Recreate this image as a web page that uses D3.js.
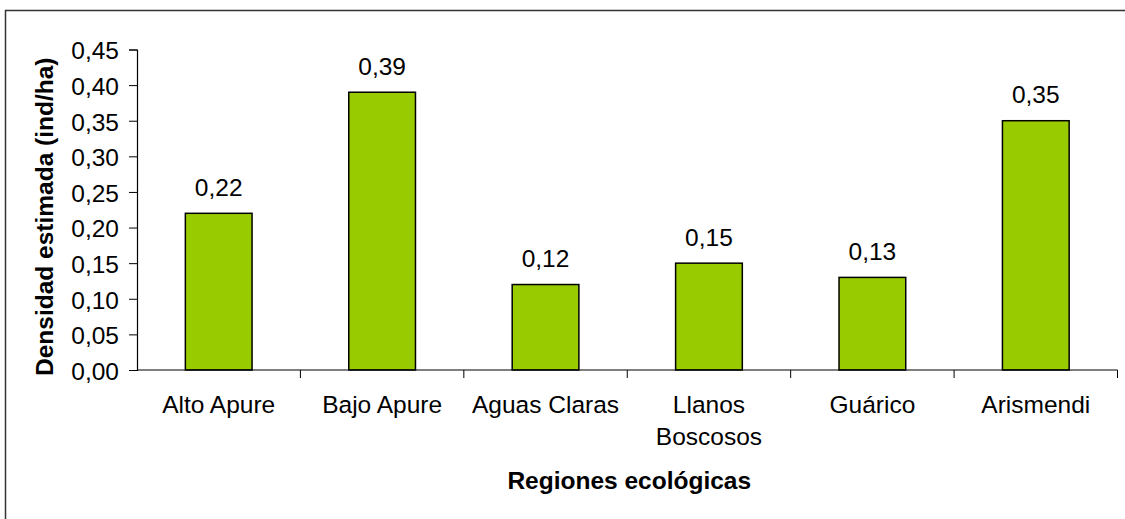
<!DOCTYPE html>
<html>
<head>
<meta charset="utf-8">
<script src="https://cdn.jsdelivr.net/npm/d3@7"></script>
<style>
  html, body { margin: 0; padding: 0; background: #fff; }
  svg { display: block; font-family: Arial, "Liberation Sans", sans-serif; }
</style>
</head>
<body>
<svg id="chart" width="1125" height="519"></svg>
<script>
// Data
const regions = ["Alto Apure", "Bajo Apure", "Aguas Claras", "Llanos Boscosos", "Guárico", "Arismendi"];
const density = [0.22, 0.39, 0.12, 0.15, 0.13, 0.35];
const yTicks = [0, 0.05, 0.10, 0.15, 0.20, 0.25, 0.30, 0.35, 0.40, 0.45];

const yTitle = "Densidad estimada (ind/ha)";
const xTitle = "Regiones ecológicas";

const width = 1125, height = 519;
const plot = { left: 137, right: 1117.5, top: 49.5, bottom: 370 };
const fontSize = "24.5px";

const svg = d3.select("#chart");
const fmt = (v) => d3.format(".2f")(v).replace(".", ",");

// Outer frame (runs off the right and bottom edges)
svg.append("rect")
  .attr("x", 5.5).attr("y", 10.5)
  .attr("width", 1300).attr("height", 700)
  .attr("fill", "none")
  .attr("stroke", "#333")
  .attr("stroke-width", 1.5);

const x = d3.scaleBand()
  .domain(regions)
  .range([plot.left, plot.right])
  .paddingInner(0)
  .paddingOuter(0);

const y = d3.scaleLinear()
  .domain([0, 0.45])
  .range([plot.bottom, plot.top]);

const barW = x.bandwidth() / 2.45;

// Bars
svg.append("g")
  .selectAll("rect")
  .data(density)
  .join("rect")
  .attr("x", (d, i) => x(regions[i]) + x.bandwidth() / 2 - barW / 2)
  .attr("y", (d) => y(d))
  .attr("width", barW)
  .attr("height", (d) => y(0) - y(d))
  .attr("fill", "#99CC00")
  .attr("stroke", "#000")
  .attr("stroke-width", 1.5);

// Value labels
svg.append("g")
  .selectAll("text")
  .data(density)
  .join("text")
  .attr("x", (d, i) => x(regions[i]) + x.bandwidth() / 2)
  .attr("y", (d) => y(d) - 17.5)
  .attr("text-anchor", "middle")
  .attr("font-size", fontSize)
  .attr("fill", "#000")
  .text(fmt);

// Y axis
const yAxis = svg.append("g")
  .attr("transform", `translate(${plot.left},0)`)
  .call(d3.axisLeft(y).tickValues(yTicks).tickFormat(fmt).tickSize(8).tickPadding(10));
yAxis.select(".domain").attr("stroke", "#000").attr("stroke-width", 1.2);
yAxis.selectAll(".tick line").attr("stroke", "#000");
yAxis.selectAll(".tick text")
  .attr("font-size", fontSize)
  .attr("font-family", "Arial, 'Liberation Sans', sans-serif")
  .attr("fill", "#000")
  .attr("dy", "0.38em");

// X axis: ticks on category boundaries
const xAxis = svg.append("g")
  .attr("transform", `translate(0,${plot.bottom})`);
xAxis.append("line")
  .attr("x1", plot.left).attr("x2", plot.right)
  .attr("stroke", "#000").attr("stroke-width", 1.2);
const boundaries = regions.map((r) => x(r)).concat([plot.right]).slice(1);
xAxis.selectAll("line.tick")
  .data(boundaries)
  .join("line")
  .attr("class", "tick")
  .attr("x1", (d) => d).attr("x2", (d) => d)
  .attr("y1", 0).attr("y2", 8)
  .attr("stroke", "#000");

// Category labels, wrapped to band width
const catLabels = xAxis.selectAll("text.cat")
  .data(regions)
  .join("text")
  .attr("class", "cat")
  .attr("x", (d) => x(d) + x.bandwidth() / 2)
  .attr("y", 43)
  .attr("text-anchor", "middle")
  .attr("font-size", fontSize)
  .attr("fill", "#000");

catLabels.each(function (d) {
  const el = d3.select(this);
  const words = d.split(" ");
  let line = [];
  let tspan = el.append("tspan").attr("x", x(d) + x.bandwidth() / 2).attr("dy", 0);
  for (const w of words) {
    line.push(w);
    tspan.text(line.join(" "));
    if (tspan.node().getComputedTextLength() > x.bandwidth() && line.length > 1) {
      line.pop();
      tspan.text(line.join(" "));
      line = [w];
      tspan = el.append("tspan")
        .attr("x", x(d) + x.bandwidth() / 2)
        .attr("dy", 31.7)
        .text(w);
    }
  }
});

// Axis titles
svg.append("text")
  .attr("x", (plot.left + plot.right) / 2 + 2)
  .attr("y", 489)
  .attr("text-anchor", "middle")
  .attr("font-size", fontSize)
  .attr("font-weight", "bold")
  .attr("fill", "#000")
  .text(xTitle);

svg.append("text")
  .attr("transform", `translate(53,${(plot.top + plot.bottom) / 2 + 7}) rotate(-90)`)
  .attr("text-anchor", "middle")
  .attr("font-size", fontSize)
  .attr("font-weight", "bold")
  .attr("fill", "#000")
  .text(yTitle);
</script>
</body>
</html>
